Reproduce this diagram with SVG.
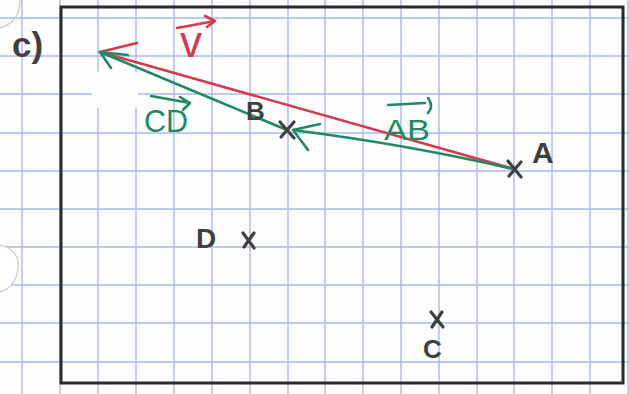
<svg xmlns="http://www.w3.org/2000/svg" width="629" height="394" viewBox="0 0 629 394">
<style>
.grid line{stroke:#a9b8ea;stroke-width:1.4}
.pencil{font-family:"Liberation Sans","DejaVu Sans",sans-serif;fill:#404040;font-weight:bold}
.cross{stroke:#404040;stroke-width:3.2;stroke-linecap:round;fill:none}
.red{stroke:#d43a4e;stroke-width:2.6;fill:none;stroke-linecap:round;stroke-linejoin:round}
.green{stroke:#1f8a5f;stroke-width:2.6;fill:none;stroke-linecap:round;stroke-linejoin:round}
.gtext{font-family:"Liberation Sans","DejaVu Sans",sans-serif;fill:#1f8a5f}
.rtext{font-family:"Liberation Sans","DejaVu Sans",sans-serif;fill:#d43a4e;font-weight:normal}
</style>
<rect width="629" height="394" fill="#fdfdfe"/>
<g class="grid">
<line x1="22" y1="0" x2="22" y2="394"/><line x1="60" y1="0" x2="60" y2="394"/><line x1="98" y1="0" x2="98" y2="394"/><line x1="136" y1="0" x2="136" y2="394"/><line x1="174" y1="0" x2="174" y2="394"/><line x1="212" y1="0" x2="212" y2="394"/><line x1="250" y1="0" x2="250" y2="394"/><line x1="288" y1="0" x2="288" y2="394"/><line x1="325" y1="0" x2="325" y2="394"/><line x1="363" y1="0" x2="363" y2="394"/><line x1="401" y1="0" x2="401" y2="394"/><line x1="439" y1="0" x2="439" y2="394"/><line x1="477" y1="0" x2="477" y2="394"/><line x1="514" y1="0" x2="514" y2="394"/><line x1="552" y1="0" x2="552" y2="394"/><line x1="590" y1="0" x2="590" y2="394"/><line x1="628" y1="0" x2="628" y2="394"/>
<line x1="0" y1="18" x2="629" y2="18"/><line x1="0" y1="56" x2="629" y2="56"/><line x1="0" y1="94" x2="629" y2="94"/><line x1="0" y1="133" x2="629" y2="133"/><line x1="0" y1="171" x2="629" y2="171"/><line x1="0" y1="209" x2="629" y2="209"/><line x1="0" y1="247" x2="629" y2="247"/><line x1="0" y1="285" x2="629" y2="285"/><line x1="0" y1="323" x2="629" y2="323"/><line x1="0" y1="362" x2="629" y2="362"/>
</g>
<path d="M0 245 Q20 250 18 268 Q16 287 0 292" fill="#fff" stroke="#c8c8c8" stroke-width="1.2"/>
<path d="M20 0 Q20 22 0 28" fill="none" stroke="#c8c8c8" stroke-width="1.2"/>
<rect x="92" y="72" width="46" height="36" rx="4" fill="#fdfdfe"/>
<rect id="frame" x="61" y="7" width="562" height="376" fill="none" stroke="#2a2a2a" stroke-width="3"/>
<text id="part-label" class="pencil" x="12" y="57" font-size="35">c)</text>
<g id="connectors">
<g id="vec-v">
<path class="red" d="M514 169 L100 52 L137 43"/>
</g>
<g id="vec-CD">
<path class="green" d="M287 130 L100 52"/>
<path class="green" d="M128 55 L100 52 L111 68"/>
</g>
<g id="vec-AB">
<path class="green" d="M513 169 Q410 145 293 130"/>
<path class="green" d="M320 124 L293 130 L308 150"/>
</g>
</g>
<g id="point-A">
<path class="cross" d="M508 161 L521 177 M521 162 L509 176"/>
<text class="pencil" x="532" y="163" font-size="30">A</text>
</g>
<g id="point-B">
<path class="cross" d="M280 122 L294 138 M294 122 L281 137"/>
<text class="pencil" x="246" y="120" font-size="26">B</text>
</g>
<g id="point-D">
<path class="cross" d="M243 233 L254 248 M254 233 L244 247"/>
<text class="pencil" x="196" y="248" font-size="28">D</text>
</g>
<g id="point-C">
<path class="cross" d="M431 312 L443 327 M442 312 L432 327"/>
<text class="pencil" x="423" y="358" font-size="26">C</text>
</g>
<g id="label-v">
<text class="rtext" x="180" y="57" font-size="44">v</text>
<path class="red" d="M177 28 L215 21 M205 16 L215 21 L207 27"/>
</g>
<g id="label-CD">
<text class="gtext" x="144" y="132" font-size="32" textLength="44" lengthAdjust="spacingAndGlyphs">CD</text>
<path class="green" d="M151 96 L190 103 M180 97 L190 103 L183 110"/>
</g>
<g id="label-AB">
<text class="gtext" x="384" y="140" font-size="30" textLength="46" lengthAdjust="spacingAndGlyphs">AB</text>
<path class="green" d="M388 105 L425 103 M428 98 Q434 106 428 113"/>
</g>
</svg>
